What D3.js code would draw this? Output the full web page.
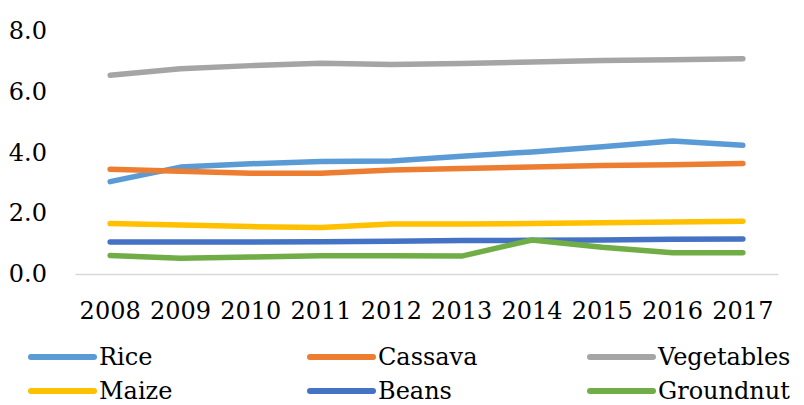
<!DOCTYPE html>
<html>
<head>
<meta charset="utf-8">
<script src="https://cdn.jsdelivr.net/npm/d3@7"></script>
<style>
  body { margin: 0; background: #fff; }
  svg text { font-family: "DejaVu Serif", serif; fill: #000; }
</style>
</head>
<body>
<div class="chart"></div>
<script>
// Data
const years = ["2008", "2009", "2010", "2011", "2012", "2013", "2014", "2015", "2016", "2017"];
const yTicks = [0, 2, 4, 6, 8];

const rice       = [3.04, 3.52, 3.63, 3.70, 3.72, 3.88, 4.02, 4.19, 4.38, 4.24];
const cassava    = [3.45, 3.38, 3.32, 3.32, 3.42, 3.47, 3.52, 3.57, 3.60, 3.64];
const vegetables = [6.54, 6.76, 6.86, 6.94, 6.90, 6.93, 6.98, 7.03, 7.05, 7.09];
const maize      = [1.66, 1.61, 1.56, 1.53, 1.65, 1.65, 1.66, 1.69, 1.71, 1.74];
const beans      = [1.05, 1.05, 1.05, 1.06, 1.08, 1.10, 1.11, 1.12, 1.14, 1.15];
const groundnut  = [0.61, 0.52, 0.56, 0.60, 0.60, 0.59, 1.12, 0.88, 0.70, 0.70];

const seriesNames  = ["Rice", "Cassava", "Vegetables", "Maize", "Beans", "Groundnut"];
const seriesValues = [rice, cassava, vegetables, maize, beans, groundnut];
const colors       = ["#5B9BD5", "#ED7D31", "#A5A5A5", "#FFC000", "#4472C4", "#70AD47"];

const W = 804, H = 405;
const plot = { left: 75, right: 778, top: 31, bottom: 274 };

const svg = d3.select(".chart").append("svg")
    .attr("width", W)
    .attr("height", H);

const x = d3.scaleBand().domain(years).range([plot.left, plot.right]).padding(0);
const y = d3.scaleLinear().domain([0, 8]).range([plot.bottom, plot.top]);
const color = d3.scaleOrdinal().domain(seriesNames).range(colors);

// x axis
const xAxis = svg.append("g")
    .attr("transform", "translate(0," + plot.bottom + ")")
    .call(d3.axisBottom(x).tickSize(0).tickPadding(28));
xAxis.select(".domain").attr("stroke", "#D9D9D9").attr("stroke-width", 1.5);
xAxis.selectAll("text").style("font-size", "24px").attr("fill", "#000");

// y axis (labels only)
const yAxis = svg.append("g")
    .attr("transform", "translate(" + plot.left + ",0)")
    .call(d3.axisLeft(y).tickValues(yTicks).tickFormat(d3.format(".1f")).tickSize(0).tickPadding(28));
yAxis.select(".domain").remove();
yAxis.selectAll("text").style("font-size", "24px").attr("fill", "#000");

// lines
const line = d3.line()
    .x((d, i) => x(years[i]) + x.bandwidth() / 2)
    .y(d => y(d));

const series = seriesNames.map((name, i) => ({ name: name, values: seriesValues[i] }));

svg.selectAll(".series")
    .data(series)
    .enter().append("path")
    .attr("class", "series")
    .attr("fill", "none")
    .attr("stroke", d => color(d.name))
    .attr("stroke-width", 5.5)
    .attr("stroke-linecap", "round")
    .attr("stroke-linejoin", "round")
    .attr("d", d => line(d.values));

// legend
const legendX = [28, 307, 587];
const legendY = [357, 391];

const legend = svg.selectAll(".legend")
    .data(seriesNames)
    .enter().append("g")
    .attr("class", "legend")
    .attr("transform", (d, i) => "translate(" + legendX[i % 3] + "," + legendY[Math.floor(i / 3)] + ")");

legend.append("line")
    .attr("x1", 3)
    .attr("x2", 66)
    .attr("stroke", d => color(d))
    .attr("stroke-width", 6)
    .attr("stroke-linecap", "round");

legend.append("text")
    .attr("x", 71)
    .attr("dy", ".35em")
    .style("font-size", "24px")
    .text(d => d);
</script>
</body>
</html>
